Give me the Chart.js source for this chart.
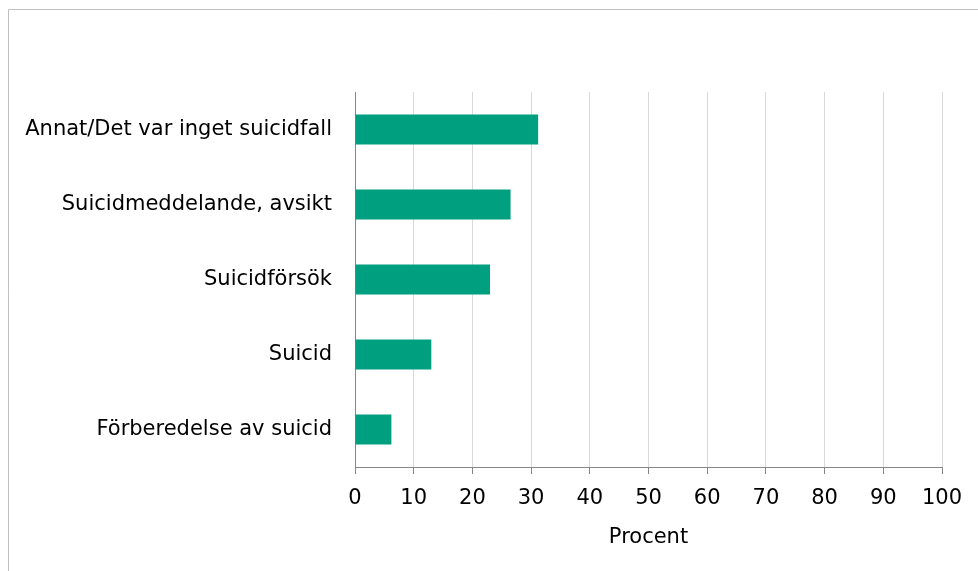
<!DOCTYPE html>
<html>
<head>
<meta charset="utf-8">
<script src="https://cdn.jsdelivr.net/npm/chart.js@4/dist/chart.umd.min.js"></script>
<style>
  html, body { margin: 0; padding: 0; background: #fff; }
  #wrap { position: relative; width: 978px; height: 571px; }
  canvas { display: block; }
</style>
</head>
<body>
<div id="wrap"><canvas id="c" width="978" height="571"></canvas></div>
<script>
const categories = [
  "Annat/Det var inget suicidfall",
  "Suicidmeddelande, avsikt",
  "Suicidförsök",
  "Suicid",
  "Förberedelse av suicid"
];
const values = [31.2, 26.5, 23.0, 13.0, 6.2];
const axisTitle = "Procent";

const frame = {
  id: 'frame',
  beforeDraw(chart) {
    const ctx = chart.ctx;
    ctx.save();
    ctx.fillStyle = '#ffffff';
    ctx.fillRect(0, 0, chart.width, chart.height);
    ctx.strokeStyle = '#c0c0c0';
    ctx.lineWidth = 1;
    ctx.beginPath();
    ctx.moveTo(8.5, chart.height);
    ctx.lineTo(8.5, 9.5);
    ctx.lineTo(chart.width, 9.5);
    ctx.stroke();
    ctx.restore();
  }
};

const font = { family: "'DejaVu Sans', sans-serif", size: 21 };

new Chart(document.getElementById('c'), {
  type: 'bar',
  data: {
    labels: categories,
    datasets: [{
      data: values,
      backgroundColor: '#009f7f',
      borderWidth: 0,
      barPercentage: 0.8,
      categoryPercentage: 0.5
    }]
  },
  options: {
    indexAxis: 'y',
    responsive: false,
    animation: false,
    devicePixelRatio: 1,
    layout: { padding: { top: 92, right: 36, bottom: 0, left: 0 } },
    plugins: { legend: { display: false }, tooltip: { enabled: false } },
    scales: {
      x: {
        min: 0, max: 100,
        ticks: { stepSize: 10, color: '#000', font: font, padding: 12, maxRotation: 0 },
        grid: { color: '#d9d9d9', lineWidth: 1, drawTicks: true, tickLength: 7, tickColor: '#868686' },
        border: { display: true, color: '#868686', width: 1 },
        title: { display: true, text: axisTitle, color: '#000', font: font, padding: { top: 4, bottom: 21 } },
        afterFit(scale) { scale.height = 104; }
      },
      y: {
        ticks: { color: '#000', font: font, padding: 23 },
        grid: { display: false, drawTicks: false },
        border: { display: true, color: '#868686', width: 1 },
        afterFit(scale) { scale.width = 355; }
      }
    }
  },
  plugins: [frame]
});
</script>
</body>
</html>
